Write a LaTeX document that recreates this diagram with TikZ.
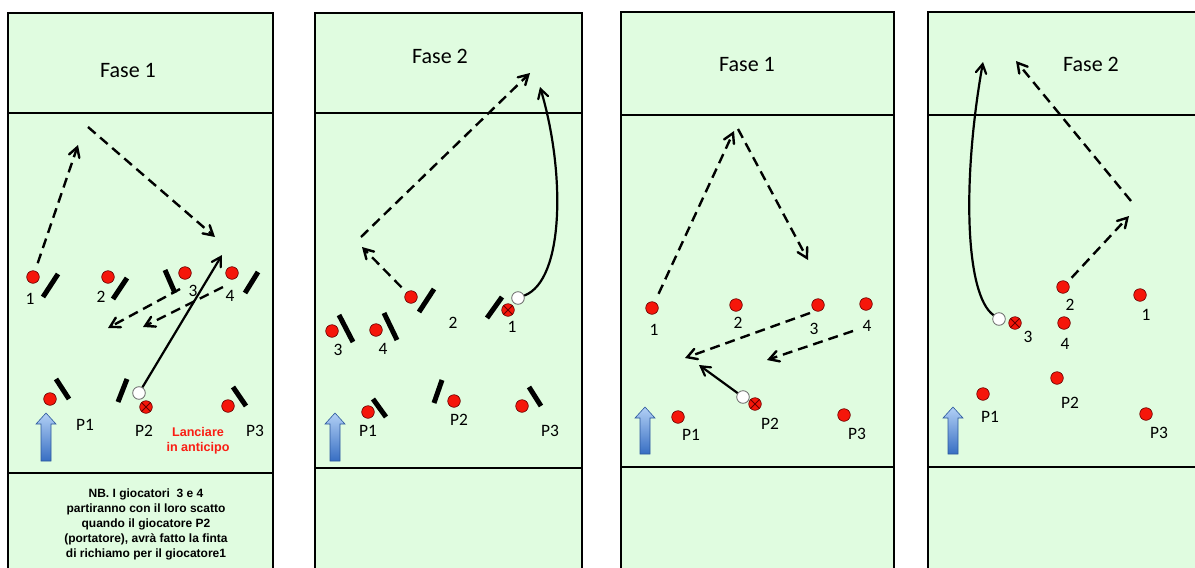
\documentclass[tikz,border=0pt]{standalone}
\usepackage{fontspec}
\setmainfont{Carlito}
\newfontfamily\notefont{Liberation Sans}
\usetikzlibrary{positioning, arrows}

\definecolor{fieldgreen}{RGB}{224,252,224}
\definecolor{plred}{RGB}{245,22,10}
\definecolor{warnred}{RGB}{250,30,20}
\definecolor{arrowtop}{RGB}{178,208,245}
\definecolor{arrowbot}{RGB}{55,110,195}

\tikzset{
  player/.style={circle, draw=red!40!black, line width=0.3pt, fill=plred,
    inner sep=0pt, minimum size=6.3pt},
  ballc/.style={circle, draw=black!60, line width=0.4pt, fill=white,
    inner sep=0pt, minimum size=6.3pt},
  carrier/.style={player, path picture={\draw [line width=0.5pt]
      (path picture bounding box.south west) -- (path picture bounding box.north east)
      (path picture bounding box.north west) -- (path picture bounding box.south east);}},
  num/.style={inner sep=0pt, font=\fontsize{8.7}{10}\selectfont},
  fase/.style={inner sep=0pt, font=\fontsize{11}{13}\selectfont},
  note/.style={inner sep=0pt, align=center,
    font=\notefont\bfseries\fontsize{6}{7.5}\selectfont},
  warn/.style={note, text=warnred, font=\notefont\bfseries\fontsize{6.3}{7.6}\selectfont},
  barline/.style={line width=2.5pt},
  runline/.style={line width=1.2pt, dash pattern=on 5pt off 3pt, -angle 60},
  passline/.style={line width=1.1pt, -angle 60},
  fieldline/.style={line width=1pt},
  uparrow/.style={draw=arrowbot!80!black, line width=0.3pt, top color=arrowtop,
    bottom color=arrowbot}
}

\begin{document}
\begin{tikzpicture}[x=0.5pt, y=-0.5pt]
  \useasboundingbox (0,0) rectangle (1195,568);%
  \clip (0,0) rectangle (1195,568);%

  % Panel 1 -- Fase 1
  \fill [fieldgreen] (8,13) rectangle (273,580);%
  \draw [fieldline] (8,580) -- (8,13) -- (273,13) -- (273,580);%
  \draw [fieldline] (8,113) -- (273,113);%
  \draw [fieldline] (8,473) -- (273,473);%
  \node [fase] (F1) at (128,70) {Fase 1};%

  % -- attackers
  \node [player] (A1) at (33,277) {};%
  \node [num, below=4.75pt of A1, xshift=-1.5pt] (a1n) {1};%
  \node [player] (A2) at (108,277) {};%
  \node [num, below=3.75pt of A2, xshift=-3.5pt] (a2n) {2};%
  \node [player] (A3) at (185,273) {};%
  \node [num, below=2.75pt of A3, xshift=4pt] (a3n) {3};%
  \node [player] (A4) at (232,273) {};%
  \node [num, below=5.25pt of A4, xshift=-1pt] (a4n) {4};%
  \draw [barline] (43,297) -- (58,274);%
  \draw [barline] (113,299) -- (127,278);%
  \draw [barline] (165,270) -- (175,293);%
  \draw [barline] (258,272) -- (245,293);%

  % -- line P
  \node [player] (P1) at (50,399) {};%
  \node [num, below=6.75pt of P1, xshift=17.5pt] (p1n) {P1};%
  \node [carrier] (P2) at (146,407) {};%
  \node [num, below=5.75pt of P2, xshift=-1pt] (p2n) {P2};%
  \node [ballc] (ball1) at (139,393) {};%
  \node [player] (P3) at (228,406) {};%
  \node [num, below=6.25pt of P3, xshift=13.5pt] (p3n) {P3};%
  \draw [barline] (56,379) -- (69,399);%
  \draw [barline] (127,379) -- (118,402);%
  \draw [barline] (233,387) -- (246,406);%
  \node [warn] (lan) at (198,441) {Lanciare\\in anticipo};%

  % -- runs and pass
  \coordinate (a1t) at (78,145);%
  \coordinate (a1u) at (88,127);%
  \coordinate (a1v) at (215,237);%
  \coordinate (a3t) at (108,328);%
  \coordinate (a4t) at (143,327);%
  \coordinate (a1p) at (222,255);%
  \draw [runline, shorten <=4pt] (A1) -- (a1t);%
  \draw [runline] (a1u) -- (a1v);%
  \draw [runline] ([xshift=-2.5pt, yshift=-8pt]A3.center) -- (a3t);%
  \draw [runline] ([xshift=-4.5pt, yshift=-7pt]A4.center) -- (a4t);%
  \draw [passline] (ball1) -- (a1p);%

  \shadedraw [uparrow] (46,413) -- ++(10,11) -- ++(-5,0) -- ++(0,37) -- ++(-10,0)
    -- ++(0,-37) -- ++(-5,0) -- cycle;%

  % -- note
  \node [note] (nb) at (146,524) {NB. I giocatori\ \ 3 e 4\\partiranno con il loro
    scatto\\quando il giocatore P2\\(portatore), avrà fatto la finta\\di richiamo
    per il giocatore1};%

  % Panel 2 -- Fase 2
  \fill [fieldgreen] (315,13) rectangle (582,580);%
  \draw [fieldline] (315,580) -- (315,13) -- (582,13) -- (582,580);%
  \draw [fieldline] (315,113) -- (582,113);%
  \draw [fieldline] (315,468) -- (582,468);%
  \node [fase] (F2) at (440,56) {Fase 2};%

  % -- attackers
  \node [player] (B2) at (411,297) {};%
  \node [num, below=6.75pt of B2, xshift=21pt] (b2n) {2};%
  \node [carrier] (B1) at (508,310) {};%
  \node [num, below=2.25pt of B1, xshift=2pt] (b1n) {1};%
  \node [ballc] (ball2) at (518,298) {};%
  \node [player] (B3) at (332,331) {};%
  \node [num, below=3.25pt of B3, xshift=3pt] (b3n) {3};%
  \node [player] (B4) at (376,330) {};%
  \node [num, below=3.25pt of B4, xshift=3.5pt] (b4n) {4};%
  \draw [barline] (434,289) -- (419,312);%
  \draw [barline] (502,297) -- (487,318);%
  \draw [barline] (339,315) -- (353,342);%
  \draw [barline] (384,313) -- (397,340);%

  % -- line P
  \node [player] (Q1) at (368,412) {};%
  \node [num, below=3.25pt of Q1] (q1n) {P1};%
  \node [player] (Q2) at (454,401) {};%
  \node [num, below=3.25pt of Q2, xshift=2.5pt] (q2n) {P2};%
  \node [player] (Q3) at (522,406) {};%
  \node [num, below=6.25pt of Q3, xshift=14pt] (q3n) {P3};%
  \draw [barline] (373,399) -- (386,417);%
  \draw [barline] (442,380) -- (434,403);%
  \draw [barline] (529,387) -- (541,406);%

  % -- runs and pass
  \coordinate (b2t) at (362,247);%
  \coordinate (b2u) at (361,237);%
  \coordinate (b2v) at (530,73);%
  \coordinate (b1t) at (540,87);%
  \draw [runline, shorten <=3.5pt] (B2) -- (b2t);%
  \draw [runline] (b2u) -- (b2v);%
  \draw [passline] (ball2) .. controls (565,280) and (565,170) .. (b1t);%

  \shadedraw [uparrow] (335,413) -- ++(10,11) -- ++(-5,0) -- ++(0,37) -- ++(-10,0)
    -- ++(0,-37) -- ++(-5,0) -- cycle;%

  % Panel 3 -- Fase 1
  \fill [fieldgreen] (621,12) rectangle (894,580);%
  \draw [fieldline] (621,580) -- (621,12) -- (894,12) -- (894,580);%
  \draw [fieldline] (621,115) -- (894,115);%
  \draw [fieldline] (621,467) -- (894,467);%
  \node [fase] (F3) at (747,64) {Fase 1};%

  % -- attackers
  \node [player] (C1) at (652,308) {};%
  \node [num, below=4.75pt of C1, xshift=1pt] (c1n) {1};%
  \node [player] (C2) at (736,305) {};%
  \node [num, below=2.75pt of C2, xshift=1pt] (c2n) {2};%
  \node [player] (C3) at (818,305) {};%
  \node [num, below=5.75pt of C3, xshift=-2pt] (c3n) {3};%
  \node [player] (C4) at (866,304) {};%
  \node [num, below=4.75pt of C4, xshift=0.5pt] (c4n) {4};%

  % -- line P
  \node [player] (R1) at (678,417) {};%
  \node [num, below=2.75pt of R1, xshift=6.5pt] (r1n) {P1};%
  \node [carrier] (R2) at (755,404) {};%
  \node [num, below=3.75pt of R2, xshift=7.5pt] (r2n) {P2};%
  \node [ballc] (ball3) at (743,397) {};%
  \node [player] (R3) at (844,415) {};%
  \node [num, below=3.25pt of R3, xshift=6.5pt] (r3n) {P3};%

  % -- runs and pass
  \coordinate (c1t) at (734,131);%
  \coordinate (c1u) at (738,129);%
  \coordinate (c1v) at (808,260);%
  \coordinate (c3t) at (685,358);%
  \coordinate (c4t) at (767,360);%
  \coordinate (c2p) at (699,365);%
  \draw [runline, shorten <=4.5pt] (C1) -- (c1t);%
  \draw [runline] (c1u) -- (c1v);%
  \draw [runline] ([xshift=-4pt, yshift=-4pt]C3.center) -- (c3t);%
  \draw [runline] ([xshift=-6.5pt, yshift=-13.5pt]C4.center) -- (c4t);%
  \draw [passline] (ball3) -- (c2p);%

  \shadedraw [uparrow] (645,407) -- ++(10,11) -- ++(-5,0) -- ++(0,36) -- ++(-10,0)
    -- ++(0,-36) -- ++(-5,0) -- cycle;%

  % Panel 4 -- Fase 2
  \fill [fieldgreen] (928,12) rectangle (1205,580);%
  \draw [fieldline] (928,580) -- (928,12) -- (1205,12);%
  \draw [fieldline] (928,115) -- (1205,115);%
  \draw [fieldline] (928,467) -- (1205,467);%
  \node [fase] (F4) at (1091,64) {Fase 2};%

  % -- attackers
  \node [player] (D2) at (1063,287) {};%
  \node [num, below=2.75pt of D2, xshift=3.5pt] (d2n) {2};%
  \node [player] (D1) at (1140,295) {};%
  \node [num, below=3.75pt of D1, xshift=3pt] (d1n) {1};%
  \node [carrier] (D3) at (1015,323) {};%
  \node [num, below=0.75pt of D3, xshift=6.5pt] (d3n) {3};%
  \node [ballc] (ball4) at (999,319) {};%
  \node [player] (D4) at (1064,323) {};%
  \node [num, below=4.25pt of D4, xshift=0.5pt] (d4n) {4};%

  % -- line P
  \node [player] (S2) at (1057,378) {};%
  \node [num, below=6.25pt of S2, xshift=6.5pt] (s2n) {P2};%
  \node [player] (S1) at (983,394) {};%
  \node [num, below=5.25pt of S1, xshift=3.5pt] (s1n) {P1};%
  \node [player] (S3) at (1146,414) {};%
  \node [num, below=3.25pt of S3, xshift=6.5pt] (s3n) {P3};%

  % -- runs and pass
  \coordinate (d3t) at (983,62);%
  \coordinate (d2t) at (1129,216);%
  \coordinate (d1u) at (1131,201);%
  \coordinate (d1v) at (1016,61);%
  \draw [passline] (ball4) .. controls (965,295) and (962,180) .. (d3t);%
  \draw [runline, shorten <=3pt] (D2) -- (d2t);%
  \draw [runline] (d1u) -- (d1v);%

  \shadedraw [uparrow] (953,407) -- ++(10,11) -- ++(-5,0) -- ++(0,36) -- ++(-10,0)
    -- ++(0,-36) -- ++(-5,0) -- cycle;%
\end{tikzpicture}
\end{document}
